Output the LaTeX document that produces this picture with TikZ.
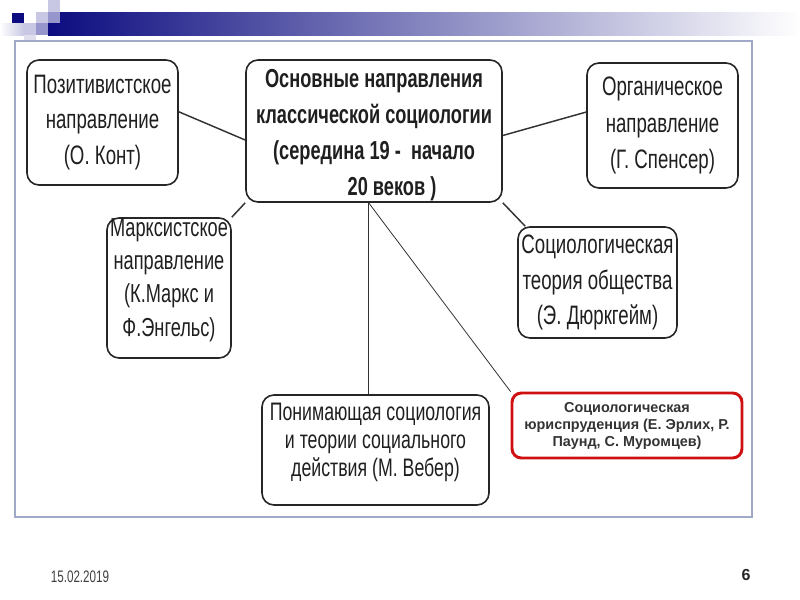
\documentclass[tikz,border=0pt]{standalone}
\usepackage{fontspec}
\setmainfont{Liberation Sans}
\newfontfamily\narrowfont[FakeStretch=0.7]{Liberation Sans}
\definecolor{navy}{RGB}{12,12,128}
\definecolor{framegray}{RGB}{160,170,200}
\definecolor{lav}{RGB}{200,200,228}
\definecolor{midlav}{RGB}{150,150,204}
\definecolor{jurred}{RGB}{208,16,16}

\begin{document}
\begin{tikzpicture}[x=0.75pt,y=-0.75pt,
  box/.style={draw=black!85,line width=1.2pt,rounded corners=9pt,align=center,inner sep=0pt,
    font=\narrowfont\fontsize{20}{26.5}\selectfont,text=black!88},
  link/.style={draw=black!80,line width=1.1pt},
  thinlink/.style={draw=black!80,line width=0.6pt}]
  \useasboundingbox (0,0) rectangle (800,600);
  % header bar and squares
  \shade[left color=navy,right color=white] (48,12) rectangle (800,35);
  \fill[navy] (12,13) rectangle (24,24);
  \fill[lav] (48,0) rectangle (60,12);
  \fill[lav] (36,12) rectangle (48,23);
  \fill[midlav] (48,12) rectangle (60,23);
  \fill[lav] (24,23) rectangle (36,35);
  \fill[midlav] (36,23) rectangle (48,35);
  \shade[left color=white,right color=lav] (0,23) rectangle (24,35);
  \fill[lav!60] (24,35) rectangle (36,40);
  % frame
  \draw[framegray,line width=1.5pt] (15,41) rectangle (752,517);
  % boxes
  \node[box,minimum width=113.25pt,minimum height=93.75pt] (pos) at (102.5,122.5)
    {Позитивистское\\направление\\(О. Конт)};
  \node[box,minimum width=192pt,minimum height=106.5pt,
    font=\narrowfont\bfseries\fontsize{19.5}{27}\selectfont] (cen) at (374,131)
    {\rule{0pt}{20pt}Основные направления\\классической социологии\\(середина 19 -\ \ начало\\\hspace*{27pt}20 веков )};
  \node[box,minimum width=113.25pt,minimum height=93.75pt,
    font=\narrowfont\fontsize{20}{27.5}\selectfont] (org) at (662.5,125.5)
    {Органическое\\направление\\(Г. Спенсер)};
  \node[box,minimum width=93pt,minimum height=105pt,
    font=\narrowfont\fontsize{19.5}{25}\selectfont] (mar) at (169,288)
    {Марксистское\\направление\\(К.Маркс и\\Ф.Энгельс\rule[-16pt]{0pt}{1pt})};
  \node[box,minimum width=119.25pt,minimum height=83.25pt] (dur) at (597.5,282.5)
    {Социологическая\\теория общества\\(Э. Дюркгейм)};
  \node[box,minimum width=170.25pt,minimum height=82.5pt,
    font=\narrowfont\fontsize{19}{21}\selectfont] (web) at (375.5,450)
    {Понимающая социология\\и теории социального\\действия (М. Вебер\rule[-16pt]{0pt}{1pt})};
  \node[box,draw=jurred,line width=2.2pt,rounded corners=7pt,minimum width=172.5pt,minimum height=48.75pt,
    font=\bfseries\fontsize{10.8}{12.75}\selectfont,text=black!80] (jur) at (627,425.5)
    {Социологическая\\юриспруденция (Е. Эрлих, Р.\\Паунд, С. Муромцев)};
  % connectors
  \draw[link] (pos.8) -- (cen.184);
  \draw[link] (cen.-2) -- (org.170);
  \draw[link] (cen.south west) -- (mar.north east);
  \draw[link] (cen.south east) -- ([xshift=6pt]dur.north west);
  \draw[thinlink] ([xshift=-4.5pt]cen.south) -- ([xshift=-4.5pt]cen.south |- web.north);
  \draw[thinlink] ([xshift=-4pt]cen.south) -- (jur.north west);
  % footer
  \node[font=\narrowfont\fontsize{12.5}{14}\selectfont,text=black!75] (date) at (80,577) {15.02.2019};
  \node[font=\bfseries\fontsize{12}{14}\selectfont,text=black!85] (num) at (746,575) {6};
\end{tikzpicture}
\end{document}
